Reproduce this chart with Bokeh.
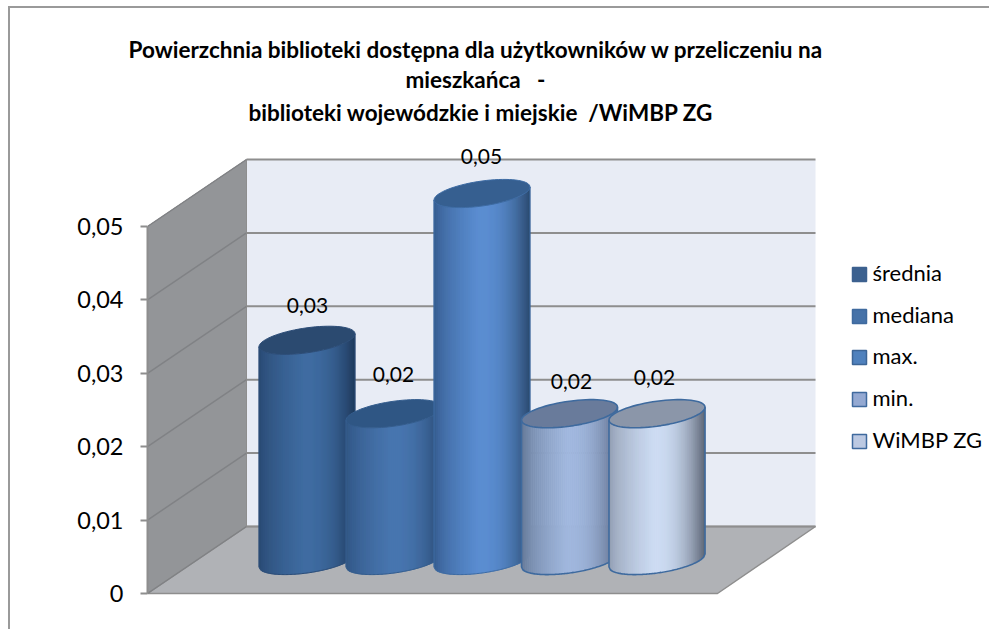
import math
from bokeh.plotting import figure
from bokeh.models import Range1d, FixedTicker, Title
from bokeh.core.properties import value
from bokeh.embed import file_html
from bokeh.resources import INLINE

categories = ["średnia", "mediana", "max.", "min.", "WiMBP ZG"]
values = [0.03, 0.02, 0.05, 0.02, 0.02]
data_labels = ["0,03", "0,02", "0,05", "0,02", "0,02"]
tick_values = [0, 0.01, 0.02, 0.03, 0.04, 0.05]
tick_labels = ["0", "0,01", "0,02", "0,03", "0,04", "0,05"]
title_lines = [
    "Powierzchnia biblioteki dostępna dla użytkowników w przeliczeniu na",
    "mieszkańca\u00a0\u00a0\u00a0-",
    "biblioteki wojewódzkie i miejskie\u00a0\u00a0/WiMBP ZG",
]

FONT = "Lato"
PX = 7340.0          # pixels per unit of value
Y0 = 593             # page pixel of value 0 on the front edge
ML, MT = 10, 8       # figure offset inside the page: leaves room for the chart frame line
W, H = 991 - ML, 631 - MT
FRAME_TOP = 128      # page pixel of the top of the plot frame, below the title


def v(y_page):
    return (Y0 - y_page) / PX


p = figure(width=W, height=H, output_backend="svg", toolbar_location=None, title=None,
           x_range=Range1d(147, 991), y_range=Range1d(v(631), v(FRAME_TOP)),
           min_border_left=147 - ML, min_border_right=0, min_border_top=FRAME_TOP - MT, min_border_bottom=0,
           x_axis_location=None, outline_line_color=None,
           margin=(MT, 0, 0, ML))
p.styles = {"box-shadow": "-2px -2px 0 0 #9a9a9a"}
p.grid.visible = False
p.background_fill_color = "white"

ax = p.yaxis[0]
ax.ticker = FixedTicker(ticks=tick_values)
ax.major_label_overrides = {t: s for t, s in zip(tick_values, tick_labels)}
ax.bounds = (0, 0.05)
ax.axis_line_color = "#8e8e8e"
ax.axis_line_width = 2
ax.major_tick_line_color = "#8e8e8e"
ax.major_tick_line_width = 2
ax.major_tick_in = 0
ax.major_tick_out = 7
ax.minor_tick_line_color = None
ax.major_label_text_font = FONT
ax.major_label_text_font_size = "23.5px"
ax.major_label_text_color = "#000000"
ax.major_label_standoff = 17

# walls and floor
BX0, BX1, FX0, FX1 = 246, 815, 147, 717
Ytop = 0.05
back = v(526)
p.patch([BX0, BX1, BX1, BX0], [back, back, back + Ytop, back + Ytop], fill_color="#e8ecf5", line_color=None)
p.patch([FX0, BX0, BX0, FX0], [0, back, back + Ytop, Ytop], fill_color="#939598", line_color="#8e8e8e", line_width=1)
p.patch([FX0, BX0, BX1, FX1], [0, back, back, 0], fill_color="#b0b2b6", line_color="#8e8e8e", line_width=1.5)
for t in tick_values:
    p.line([FX0, BX0], [t, back + t], line_color="#808285", line_width=1.5)
    p.line([BX0, BX1], [back + t, back + t], line_color="#8e8e8e", line_width=2)

# cylinders
centers = [306.5, 393.5, 481.5, 569, 656.5]
A, B, S = 48, 12.5, 6.5
LIFT = v(560)
palette = [
    dict(L="#28476f", P="#3f6ca2", R="#1f3a5c", top="#2b4a70", edge="#2c4d78", w=1),
    dict(L="#2f5380", P="#4876b0", R="#294a72", top="#2f5684", edge="#345d8e", w=1),
    dict(L="#33598a", P="#5b8ed2", R="#2b4a70", top="#365f90", edge="#3d6ba3", w=1),
    dict(L="#5f7391", P="#a0b7de", R="#5b6a87", top="#697b9b", edge="#3e6a9e", w=1.6),
    dict(L="#8c98ad", P="#cddcf3", R="#5d6676", top="#8b96a9", edge="#3e6a9e", w=1.6),
]


def hex2rgb(h):
    return [int(h[i:i + 2], 16) for i in (1, 3, 5)]


def mix(a, b, t):
    ca, cb = hex2rgb(a), hex2rgb(b)
    return "#%02x%02x%02x" % tuple(round(x + (y - x) * t) for x, y in zip(ca, cb))


def shade(c, u):
    if u < -0.05:
        t = (u + 1) / 0.95
        return mix(c["L"], c["P"], t ** 0.6)
    t = (u + 0.05) / 1.05
    return mix(c["P"], c["R"], t ** 2.2)


N = 48
for cx, val, c in zip(centers, values, palette):
    base, top = LIFT, LIFT + val
    xs, ys, cols = [], [], []
    for i in range(N):
        u0 = -1 + 2 * i / N
        u1 = -1 + 2 * (i + 1) / N
        a0 = (S * u0 - B * math.sqrt(max(0, 1 - u0 * u0))) / PX
        a1 = (S * u1 - B * math.sqrt(max(0, 1 - u1 * u1))) / PX
        x0, x1 = cx + A * u0, cx + A * u1
        xs.append([x0, x1, x1, x0])
        ys.append([base + a0, base + a1, top + a1, top + a0])
        cols.append(shade(c, (u0 + u1) / 2))
    p.patches(xs, ys, fill_color=cols, line_color=cols, line_width=0.6)
    ts = [2 * math.pi * i / 72 for i in range(73)]
    ex = [cx + A * math.cos(t) for t in ts]
    ey = [top + (S * math.cos(t) + B * math.sin(t)) / PX for t in ts]
    p.patch(ex, ey, fill_color=c["top"], line_color=c["edge"], line_width=c["w"])
    # outline of the body
    us = [-1 + 2 * i / 72 for i in range(73)]
    ox = [cx - A] + [cx + A * u for u in us] + [cx + A]
    oy = [top + S * -1 / PX] + [base + (S * u - B * math.sqrt(max(0, 1 - u * u))) / PX for u in us] + [top + S / PX]
    p.line(ox, oy, line_color=c["edge"], line_width=c["w"])

# data labels
label_x = [307, 393, 481, 571, 654]
label_y_off = [35, 39, 37, 32, 36]
p.text(label_x, [LIFT + val + o / PX for val, o in zip(values, label_y_off)], text=data_labels,
       text_font=value(FONT), text_font_size="21px", text_color="#000000",
       text_align="center", text_baseline="middle")

# legend
leg_y = [274, 316, 357, 399, 441]
leg_fill = ["#3c618f", "#4672a8", "#4f81bd", "#94a9d2", "#bcc9e2"]
leg_line = ["#3c618f", "#3f6a9e", "#3c6596", "#3f6a9e", "#3f6a9e"]
p.quad(left=[852] * 5, right=[866] * 5,
       bottom=[v(y + 7) for y in leg_y], top=[v(y - 7) for y in leg_y],
       fill_color=leg_fill, line_color=leg_line, line_width=1.5)
p.text([872] * 5, [v(y - 2) for y in leg_y], text=categories,
       text_font=value(FONT), text_font_size="22px", text_color="#000000",
       text_align="left", text_baseline="middle")

# title: one left-aligned line per row, stacked above the frame
title_x = [128, 405, 248]
title_standoff = [2, 1, 6]
for s, x, st in zip(reversed(title_lines), reversed(title_x), reversed(title_standoff)):
    p.add_layout(Title(text=s, align="left", offset=x - 147, standoff=st,
                       text_font=FONT, text_font_size="22.5px", text_font_style="bold",
                       text_color="#000000"), "above")

open("out.html", "w").write(file_html(p, INLINE))
